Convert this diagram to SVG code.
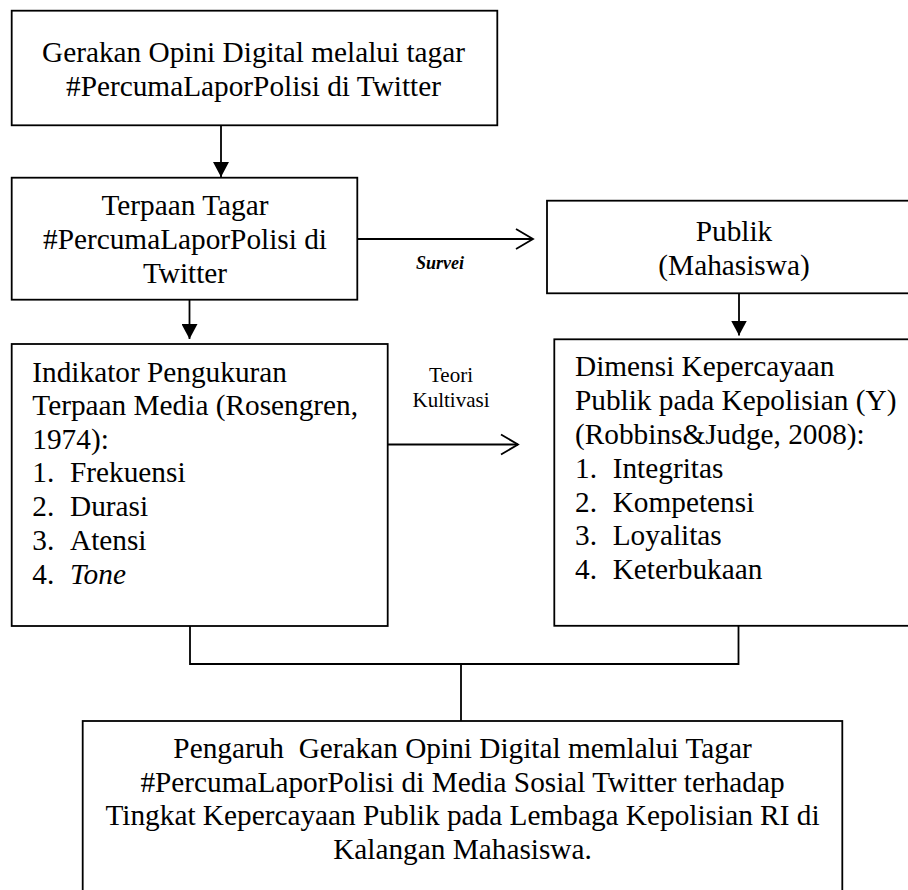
<svg xmlns="http://www.w3.org/2000/svg" width="908" height="890" viewBox="0 0 908 890">
<style>
  .box { fill: #ffffff; stroke: #000000; stroke-width: 1.8; }
  .t { font-family: "Liberation Serif", "Times New Roman", serif; font-size: 29.3px; fill: #000000; }
  .c { text-anchor: middle; }
  .conn { fill: none; stroke: #000000; stroke-width: 1.8; }
  .small { font-family: "Liberation Serif", "Times New Roman", serif; font-size: 21px; fill: #000000; text-anchor: middle; }
  .survei { font-family: "Liberation Serif", "Times New Roman", serif; font-size: 18px; font-weight: bold; font-style: italic; fill: #000000; }
</style>
<defs>
  <marker id="tri" markerUnits="userSpaceOnUse" viewBox="0 0 15 16" refX="15" refY="8" markerWidth="15" markerHeight="16" orient="auto">
    <path d="M0,0 L15,8 L0,16 Z" fill="#000000"/>
  </marker>
  <marker id="chev" markerUnits="userSpaceOnUse" viewBox="-2 -2 22 24" refX="17" refY="10" markerWidth="22" markerHeight="24" orient="auto">
    <path d="M0,0 L17,10 L0,20" fill="none" stroke="#000000" stroke-width="1.8"/>
  </marker>
</defs>
<rect width="908" height="890" fill="#ffffff"/>

<g id="connectors">
  <line class="conn" x1="221" y1="125.5" x2="221" y2="177" marker-end="url(#tri)"/>
  <line class="conn" x1="189.5" y1="299.5" x2="189.5" y2="339" marker-end="url(#tri)"/>
  <line class="conn" x1="739" y1="293.5" x2="739" y2="335.5" marker-end="url(#tri)"/>
  <line class="conn" x1="357.5" y1="239" x2="533" y2="239" marker-end="url(#chev)"/>
  <line class="conn" x1="388" y1="444.5" x2="518" y2="444.5" marker-end="url(#chev)"/>
  <polyline class="conn" points="190,626 190,664 738.5,664 738.5,626"/>
  <line class="conn" x1="461" y1="664" x2="461" y2="721"/>
  <text class="survei" x="416" y="269">Survei</text>
  <text class="small" x="451" y="382">Teori</text>
  <text class="small" x="451" y="407">Kultivasi</text>
</g>

<g id="node-gerakan">
  <rect class="box" x="11.7" y="10.7" width="485.6" height="114.6"/>
  <text class="t c" x="253.5" y="62">Gerakan Opini Digital melalui tagar</text>
  <text class="t c" x="253.5" y="96">#PercumaLaporPolisi di Twitter</text>
</g>

<g id="node-terpaan">
  <rect class="box" x="11.7" y="177.7" width="345.6" height="122"/>
  <text class="t c" x="185" y="215">Terpaan Tagar</text>
  <text class="t c" x="185" y="249">#PercumaLaporPolisi di</text>
  <text class="t c" x="185" y="283">Twitter</text>
</g>

<g id="node-publik">
  <rect class="box" x="547" y="200.7" width="400" height="92.6"/>
  <text class="t c" x="734" y="241">Publik</text>
  <text class="t c" x="734" y="275">(Mahasiswa)</text>
</g>

<g id="node-indikator">
  <rect class="box" x="11.7" y="344" width="376" height="282"/>
  <text class="t" x="32.3" y="381.7">Indikator Pengukuran</text>
  <text class="t" x="32.3" y="415.3">Terpaan Media (Rosengren,</text>
  <text class="t" x="32.3" y="448.8">1974):</text>
  <text class="t" x="32.3" y="482.4">1.</text><text class="t" x="70" y="482.4">Frekuensi</text>
  <text class="t" x="32.3" y="516">2.</text><text class="t" x="70" y="516">Durasi</text>
  <text class="t" x="32.3" y="549.8">3.</text><text class="t" x="70" y="549.8">Atensi</text>
  <text class="t" x="32.3" y="583.7">4.</text><text class="t" x="70" y="583.7" font-style="italic">Tone</text>
</g>

<g id="node-dimensi">
  <rect class="box" x="554.3" y="339.3" width="400" height="286.5"/>
  <text class="t" x="575" y="375.7">Dimensi Kepercayaan</text>
  <text class="t" x="575" y="409.7">Publik pada Kepolisian (Y)</text>
  <text class="t" x="575" y="443.7">(Robbins&amp;Judge, 2008):</text>
  <text class="t" x="575" y="477.7">1.</text><text class="t" x="612.7" y="477.7">Integritas</text>
  <text class="t" x="575" y="511.5">2.</text><text class="t" x="612.7" y="511.5">Kompetensi</text>
  <text class="t" x="575" y="545.2">3.</text><text class="t" x="612.7" y="545.2">Loyalitas</text>
  <text class="t" x="575" y="579">4.</text><text class="t" x="612.7" y="579">Keterbukaan</text>
</g>

<g id="node-pengaruh">
  <rect class="box" x="82.7" y="721" width="759.6" height="190"/>
  <text class="t c" x="462.5" y="758.3" xml:space="preserve">Pengaruh  Gerakan Opini Digital memlalui Tagar</text>
  <text class="t c" x="462.5" y="791.7">#PercumaLaporPolisi di Media Sosial Twitter terhadap</text>
  <text class="t c" x="462.5" y="825">Tingkat Kepercayaan Publik pada Lembaga Kepolisian RI di</text>
  <text class="t c" x="462.5" y="858.5">Kalangan Mahasiswa.</text>
</g>
</svg>
